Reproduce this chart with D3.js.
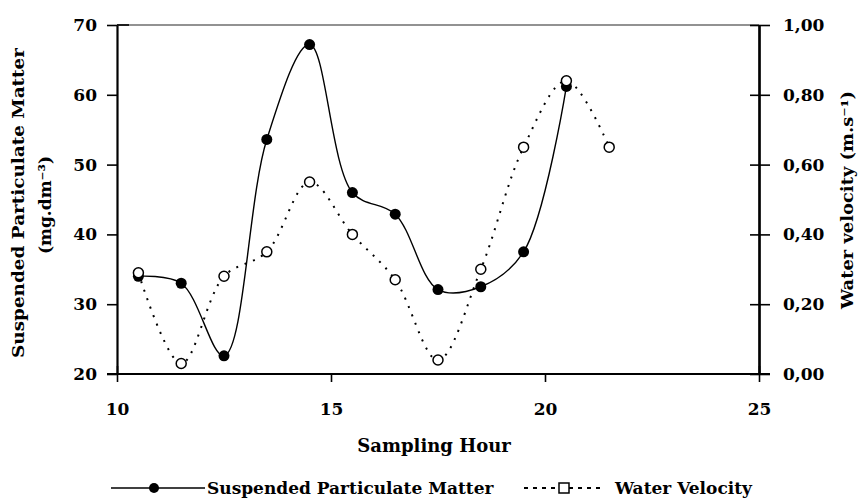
<!DOCTYPE html>
<html>
<head>
<meta charset="utf-8">
<script src="https://cdn.jsdelivr.net/npm/d3@7"></script>
<style>
  html, body { margin: 0; padding: 0; background: #fff; }
  svg { display: block; }
  text { font-family: "DejaVu Serif", "Liberation Serif", serif; font-weight: bold; fill: #000; }
</style>
</head>
<body>
<svg id="chart" width="859" height="502"></svg>
<script>
// Sampling hours (x positions of the observations)
const spmHours = [10.5, 11.5, 12.5, 13.5, 14.5, 15.5, 16.5, 17.5, 18.5, 19.5, 20.5];
const velocityHours = [10.5, 11.5, 12.5, 13.5, 14.5, 15.5, 16.5, 17.5, 18.5, 19.5, 20.5, 21.5];

// Suspended particulate matter (left axis)
const spmValues = [34.0, 33.0, 22.6, 53.6, 67.2, 46.0, 42.9, 32.1, 32.5, 37.5, 61.2];
// Water velocity (right axis)
const velocityValues = [0.29, 0.03, 0.28, 0.35, 0.55, 0.40, 0.27, 0.04, 0.30, 0.65, 0.84, 0.65];

// Axis ticks
const xTicks = [10, 15, 20, 25];
const leftTicks = [20, 30, 40, 50, 60, 70];
const rightTicks = [0, 0.2, 0.4, 0.6, 0.8, 1.0];

// Labels
const xTitle = "Sampling Hour";
const leftTitle = ["Suspended Particulate Matter", "(mg.dm\u207B\u00B3)"];
const rightTitle = "Water velocity (m.s\u207B\u00B9)";
const seriesNames = ["Suspended Particulate Matter", "Water Velocity"];

const svg = d3.select("#chart");
const plotL = 117, plotR = 759, plotT = 25, plotB = 374;

const x = d3.scaleLinear().domain([10, 25]).range([plotL, plotR]);
const yL = d3.scaleLinear().domain([20, 70]).range([plotB, plotT]);
const yR = d3.scaleLinear().domain([0, 1]).range([plotB, plotT]);

const commaFmt = d3.formatLocale({ decimal: ",", thousands: ".", grouping: [3], currency: ["", ""] }).format(".2f");

// Top frame line
svg.append("line")
  .attr("x1", plotL).attr("x2", plotR)
  .attr("y1", plotT).attr("y2", plotT)
  .attr("stroke", "#6e6e6e").attr("stroke-width", 1.5);

// Left axis
const gL = svg.append("g").attr("transform", `translate(${plotL},0)`)
  .call(d3.axisLeft(yL).tickValues(leftTicks).tickSize(10).tickSizeOuter(0).tickPadding(10).tickFormat(d3.format("d")));
// Right axis (ticks cross the line)
const gR = svg.append("g").attr("transform", `translate(${plotR},0)`)
  .call(d3.axisRight(yR).tickValues(rightTicks).tickSize(11).tickSizeOuter(0).tickPadding(13).tickFormat(commaFmt));
const gRin = svg.append("g").attr("transform", `translate(${plotR},0)`)
  .call(d3.axisLeft(yR).tickValues(rightTicks).tickSize(9).tickSizeOuter(0).tickFormat(""));
// Bottom axis
const gB = svg.append("g").attr("transform", `translate(0,${plotB})`)
  .call(d3.axisBottom(x).tickValues(xTicks).tickSize(8).tickSizeOuter(0).tickPadding(21).tickFormat(d3.format("d")));

[gL, gR, gRin, gB].forEach(g => {
  g.select(".domain").attr("stroke", "#000").attr("stroke-width", 2.2);
  g.selectAll(".tick line").attr("stroke", "#000").attr("stroke-width", 1.6);
  g.selectAll(".tick text").style("font-family", '"DejaVu Serif", serif')
    .style("font-weight", "bold").style("font-size", "17px").attr("fill", "#000");
});
gB.select(".domain").attr("d", `M${plotL - 10},0H${plotR + 11}`);
// Crossing marks at the plot corners
svg.append("line").attr("x1", plotL).attr("x2", plotL + 12).attr("y1", plotT).attr("y2", plotT).attr("stroke", "#000").attr("stroke-width", 1.6);
svg.append("line").attr("x1", plotL).attr("x2", plotL + 12).attr("y1", plotB).attr("y2", plotB).attr("stroke", "#000").attr("stroke-width", 1.6);
gB.selectAll(".tick line").attr("y1", d => (d === 10 || d === 25) ? -8 : 0);

// Series lines
const lineSpm = d3.line().x(d => x(d[0])).y(d => yL(d[1])).curve(d3.curveCatmullRom.alpha(0.5));
const lineVel = d3.line().x(d => x(d[0])).y(d => yR(d[1])).curve(d3.curveCatmullRom.alpha(0.5));

const spmData = spmHours.map((h, i) => [h, spmValues[i]]);
const velData = velocityHours.map((h, i) => [h, velocityValues[i]]);

svg.append("path").datum(velData)
  .attr("d", lineVel).attr("fill", "none")
  .attr("stroke", "#000").attr("stroke-width", 2).attr("stroke-dasharray", "2,7");

svg.append("path").datum(spmData)
  .attr("d", lineSpm).attr("fill", "none")
  .attr("stroke", "#000").attr("stroke-width", 1.4);

svg.selectAll("circle.spm").data(spmData).join("circle")
  .attr("class", "spm")
  .attr("cx", d => x(d[0])).attr("cy", d => yL(d[1])).attr("r", 5.5)
  .attr("fill", "#000");

svg.selectAll("circle.vel").data(velData).join("circle")
  .attr("class", "vel")
  .attr("cx", d => x(d[0])).attr("cy", d => yR(d[1])).attr("r", 5)
  .attr("fill", "#fff").attr("stroke", "#000").attr("stroke-width", 1.5);

// Axis titles
svg.append("text")
  .attr("x", 434).attr("y", 452).attr("text-anchor", "middle")
  .style("font-size", "18px").text(xTitle);

svg.append("text")
  .attr("transform", "translate(24,203) rotate(-90)")
  .attr("text-anchor", "middle").style("font-size", "17px")
  .attr("textLength", 310).attr("lengthAdjust", "spacingAndGlyphs")
  .text(leftTitle[0]);
svg.append("text")
  .attr("transform", "translate(51,205) rotate(-90)")
  .attr("text-anchor", "middle").style("font-size", "17px").text(leftTitle[1]);

svg.append("text")
  .attr("transform", "translate(853,200) rotate(-90)")
  .attr("text-anchor", "middle").style("font-size", "16px")
  .attr("textLength", 218).attr("lengthAdjust", "spacingAndGlyphs")
  .text(rightTitle);

// Legend
const ly = 488;
svg.append("line").attr("x1", 111).attr("x2", 205).attr("y1", ly).attr("y2", ly)
  .attr("stroke", "#000").attr("stroke-width", 1.4);
svg.append("circle").attr("cx", 154).attr("cy", ly).attr("r", 5).attr("fill", "#000");
svg.append("text").attr("x", 207).attr("y", ly + 6).style("font-size", "17px").text(seriesNames[0]);

svg.append("line").attr("x1", 524).attr("x2", 603).attr("y1", ly).attr("y2", ly)
  .attr("stroke", "#000").attr("stroke-width", 2).attr("stroke-dasharray", "4,5");
svg.append("rect").attr("x", 559).attr("y", ly - 5).attr("width", 10).attr("height", 10)
  .attr("fill", "#fff").attr("stroke", "#000").attr("stroke-width", 1.5);
svg.append("text").attr("x", 615).attr("y", ly + 6).style("font-size", "17px").text(seriesNames[1]);
</script>
</body>
</html>
